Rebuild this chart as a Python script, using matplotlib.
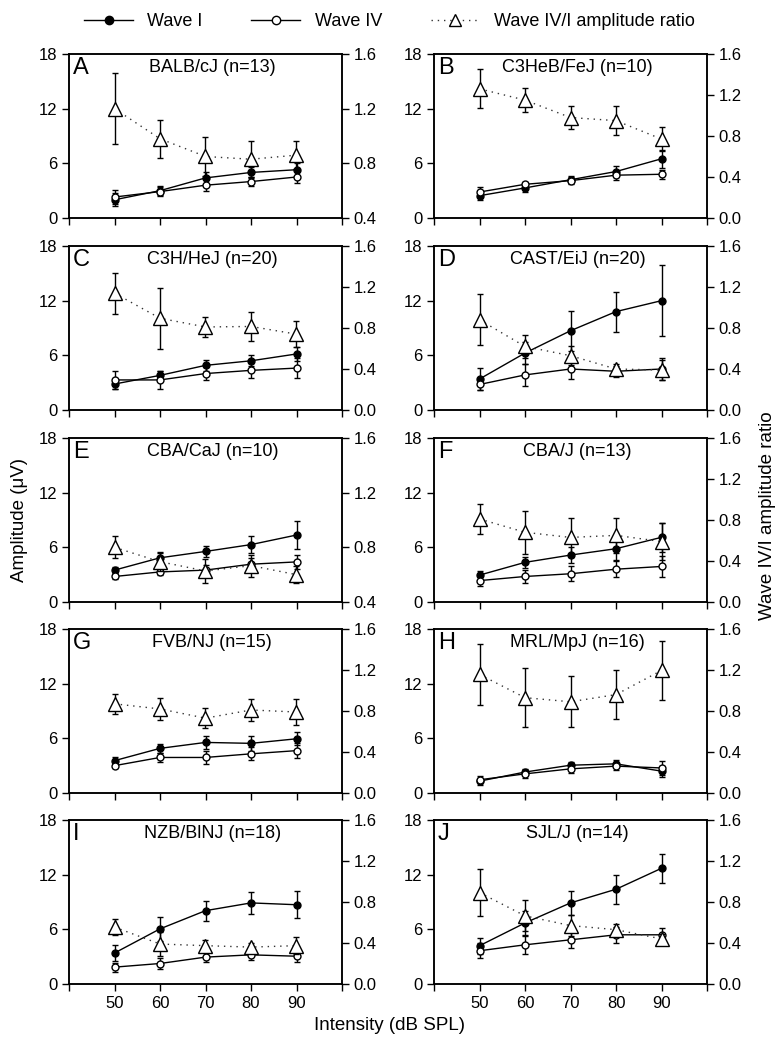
import numpy as np
import matplotlib
matplotlib.use("Agg")
import matplotlib.pyplot as plt
from matplotlib.lines import Line2D

plt.rcParams['font.family'] = ['Liberation Sans', 'DejaVu Sans']

intensity = [50, 60, 70, 80, 90]
letters = ['A', 'B', 'C', 'D', 'E', 'F', 'G', 'H', 'I', 'J']
strains = ['BALB/cJ (n=13)', 'C3HeB/FeJ (n=10)', 'C3H/HeJ (n=20)', 'CAST/EiJ (n=20)',
           'CBA/CaJ (n=10)', 'CBA/J (n=13)', 'FVB/NJ (n=15)', 'MRL/MpJ (n=16)',
           'NZB/BlNJ (n=18)', 'SJL/J (n=14)']

# Wave I amplitude (uV), mean and error
wave1_mean = [
    [2.0, 3.0, 4.4, 5.0, 5.3],
    [2.45, 3.3, 4.2, 5.1, 6.5],
    [2.85, 3.8, 4.9, 5.4, 6.15],
    [3.4, 6.25, 8.7, 10.8, 12.0],
    [3.5, 4.85, 5.55, 6.3, 7.35],
    [2.95, 4.35, 5.15, 5.85, 7.1],
    [3.55, 4.9, 5.55, 5.45, 5.95],
    [1.3, 2.3, 3.05, 3.2, 2.4],
    [3.4, 6.05, 8.05, 8.9, 8.7],
    [4.2, 6.7, 8.9, 10.4, 12.7],
]
wave1_err = [
    [0.7, 0.5, 0.7, 0.6, 0.7],
    [0.5, 0.4, 0.4, 0.6, 1.0],
    [0.6, 0.5, 0.6, 0.6, 0.8],
    [1.2, 1.2, 2.2, 2.2, 3.9],
    [0.3, 0.5, 0.6, 0.9, 1.5],
    [0.5, 0.6, 0.9, 1.2, 1.6],
    [0.4, 0.5, 0.7, 0.8, 0.7],
    [0.4, 0.3, 0.4, 0.4, 0.6],
    [0.9, 1.3, 1.1, 1.2, 1.5],
    [0.9, 1.3, 1.3, 1.6, 1.6],
]

# Wave IV amplitude (uV), mean and error
wave4_mean = [
    [2.3, 2.9, 3.6, 4.0, 4.5],
    [2.85, 3.7, 4.1, 4.7, 4.8],
    [3.3, 3.3, 4.0, 4.35, 4.6],
    [2.8, 3.85, 4.5, 4.25, 4.5],
    [2.8, 3.3, 3.5, 4.15, 4.4],
    [2.35, 2.8, 3.1, 3.6, 3.9],
    [3.0, 3.9, 3.9, 4.3, 4.65],
    [1.45, 2.1, 2.65, 2.95, 2.75],
    [1.85, 2.25, 2.95, 3.2, 3.05],
    [3.65, 4.3, 4.85, 5.4, 5.4],
]
wave4_err = [
    [0.8, 0.5, 0.6, 0.5, 0.7],
    [0.5, 0.3, 0.4, 0.5, 0.5],
    [1.0, 1.0, 0.7, 0.8, 1.1],
    [0.6, 1.2, 1.1, 0.6, 1.2],
    [0.3, 0.3, 0.6, 0.7, 0.8],
    [0.6, 0.7, 0.8, 0.9, 1.2],
    [0.3, 0.5, 0.7, 0.7, 0.8],
    [0.4, 0.4, 0.4, 0.4, 0.8],
    [0.5, 0.6, 0.5, 0.6, 0.6],
    [0.8, 1.0, 0.9, 0.9, 0.8],
]

# Wave IV/I amplitude ratio, mean and error
ratio_mean = [
    [1.2, 0.98, 0.85, 0.83, 0.86],
    [1.26, 1.15, 0.98, 0.95, 0.77],
    [1.14, 0.895, 0.81, 0.815, 0.74],
    [0.88, 0.62, 0.53, 0.40, 0.39],
    [0.80, 0.695, 0.627, 0.666, 0.60],
    [0.81, 0.68, 0.63, 0.65, 0.59],
    [0.87, 0.82, 0.73, 0.81, 0.79],
    [1.157, 0.93, 0.89, 0.96, 1.196],
    [0.555, 0.39, 0.374, 0.36, 0.374],
    [0.892, 0.665, 0.57, 0.53, 0.44],
]
ratio_err = [
    [0.26, 0.14, 0.14, 0.13, 0.1],
    [0.19, 0.12, 0.11, 0.14, 0.12],
    [0.2, 0.3, 0.1, 0.14, 0.13],
    [0.25, 0.11, 0.09, 0.05, 0.1],
    [0.08, 0.07, 0.09, 0.08, 0.06],
    [0.15, 0.21, 0.19, 0.17, 0.18],
    [0.095, 0.11, 0.1, 0.11, 0.13],
    [0.3, 0.29, 0.25, 0.24, 0.29],
    [0.08, 0.12, 0.06, 0.04, 0.08],
    [0.23, 0.15, 0.1, 0.06, 0.05],
]
ratio_floor = [0.4, 0.0, 0.0, 0.0, 0.4, 0.0, 0.0, 0.0, 0.0, 0.0]

W, H = 779, 1050
fig = plt.figure(figsize=(W / 100, H / 100), dpi=100)

col_left = [69, 434]
ax_w, ax_h = 273, 164
row_bottom = [218, 410, 602, 793, 984]

dots = (0, (1, 3.5))
eb_kw = dict(color='black', elinewidth=1.0, capsize=2.5, capthick=1.0, lw=1.0)

for i in range(10):
    r, c = divmod(i, 2)
    ax = fig.add_axes([col_left[c] / W, 1 - row_bottom[r] / H, ax_w / W, ax_h / H])
    ax2 = ax.twinx()

    ax.errorbar(intensity, wave1_mean[i], yerr=wave1_err[i], marker='o', ms=5,
                mfc='black', mec='black', **eb_kw)
    ax.errorbar(intensity, wave4_mean[i], yerr=wave4_err[i], marker='o', ms=5,
                mfc='white', mec='black', mew=1.0, **eb_kw)
    ax2.errorbar(intensity, ratio_mean[i], yerr=ratio_err[i], marker='^', ms=10,
                 mfc='white', mec='black', mew=1.0, ls=dots, color='#333333',
                 ecolor='black', elinewidth=1.0, capsize=2.5, capthick=1.0, lw=1.0)

    ax.set_xlim(40, 100)
    ax.set_ylim(0, 18)
    ax.set_yticks([0, 6, 12, 18])
    ax2.set_ylim(ratio_floor[i], 1.6)
    rt = np.arange(ratio_floor[i], 1.61, 0.4)
    ax2.set_yticks(rt)
    ax2.set_yticklabels(['%.1f' % v for v in rt])

    ax.set_xticks([40, 50, 60, 70, 80, 90, 100])
    if r == 4:
        ax.set_xticklabels(['', '50', '60', '70', '80', '90', ''])
    else:
        ax.set_xticklabels([])

    ax.tick_params(axis='both', direction='out', length=5, width=1, labelsize=12)
    ax2.tick_params(axis='y', direction='out', length=5, width=1, labelsize=12)
    for s in list(ax.spines.values()) + list(ax2.spines.values()):
        s.set_linewidth(1.1)

    ax.text(0.015, 0.915, letters[i], transform=ax.transAxes, fontsize=17,
            ha='left', va='center')
    ax.text(0.525, 0.915, strains[i], transform=ax.transAxes, fontsize=13,
            ha='center', va='center')

fig.text(20 / W, 1 - 520 / H, 'Amplitude (μV)', rotation=90, fontsize=13.5,
         ha='center', va='center')
fig.text(767 / W, 1 - 516 / H, 'Wave IV/I amplitude ratio', rotation=90,
         fontsize=13.5, ha='center', va='center')
fig.text(390 / W, 1 - 1025 / H, 'Intensity (dB SPL)', fontsize=13.5,
         ha='center', va='center')

handles = [
    Line2D([], [], color='black', lw=1.0, marker='o', ms=6, mfc='black', mec='black'),
    Line2D([], [], color='black', lw=1.0, marker='o', ms=6, mfc='white', mec='black'),
    Line2D([], [], color='#333333', lw=1.0, ls=dots, marker='^', ms=8, mfc='white',
           mec='black'),
]
fig.legend(handles, ['Wave I', 'Wave IV', 'Wave IV/I amplitude ratio'],
           loc='center', bbox_to_anchor=(0.5, 1 - 22 / H), ncol=3, frameon=False,
           fontsize=13, handlelength=2.7, handletextpad=0.8, columnspacing=2.7)

fig.savefig('out.png', dpi=100)
